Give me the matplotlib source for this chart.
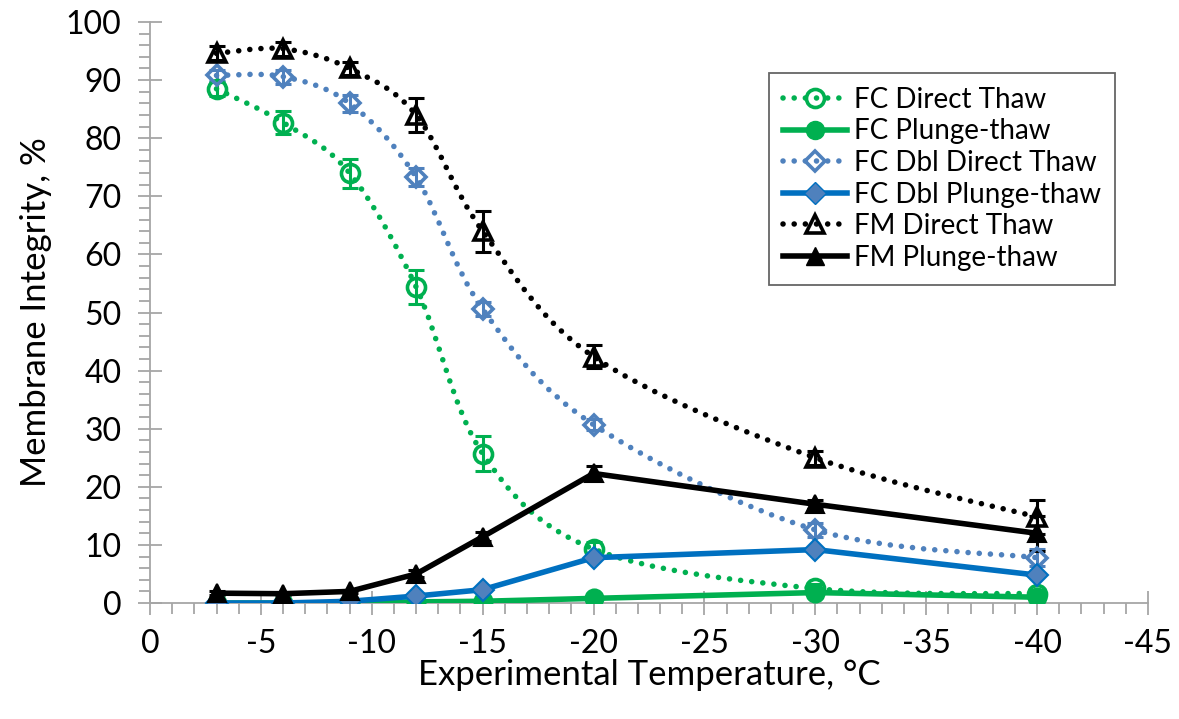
import numpy as np
import matplotlib.pyplot as plt
from matplotlib.path import Path
from matplotlib.patches import PathPatch
from matplotlib.lines import Line2D
from matplotlib.ticker import MultipleLocator

plt.rcParams['font.family'] = ['Lato', 'DejaVu Sans']
plt.rcParams['axes.unicode_minus'] = False

# Data
temps = [-3, -6, -9, -12, -15, -20, -30, -40]

fc_direct = [88.5, 82.7, 74.0, 54.4, 25.7, 9.3, 2.5, 1.6]
fc_direct_err = [1.2, 2.0, 2.5, 3.0, 3.0, 1.2, 0.8, 0.6]

fc_plunge = [0.0, 0.0, 0.0, 0.2, 0.3, 0.8, 1.8, 1.0]

dbl_direct = [90.8, 90.6, 86.0, 73.3, 50.6, 30.7, 12.6, 7.8]
dbl_direct_err = [1.0, 1.2, 1.5, 1.5, 1.2, 1.0, 1.2, 1.5]

dbl_plunge = [0.0, 0.0, 0.3, 1.2, 2.3, 7.8, 9.2, 4.8]

fm_direct = [94.6, 95.4, 92.0, 84.0, 64.0, 42.4, 25.0, 14.8]
fm_direct_err = [1.2, 1.2, 1.2, 3.0, 3.5, 2.0, 1.2, 3.0]

fm_plunge = [1.7, 1.6, 2.0, 5.0, 11.4, 22.3, 17.0, 12.0]
fm_plunge_err = [0.3, 0.3, 0.3, 0.6, 0.8, 1.2, 0.8, 3.0]

green = '#00B050'
blue = '#0070C0'
lblue = '#4F81BD'
dots = (0, (0.01, 2.0))


# Excel-style smoothed line: Catmull-Rom control points as cubic Bezier
def smooth_path(xs, ys):
    p = np.column_stack([xs, ys]).astype(float)
    p_ext = np.vstack([p[0], p, p[-1]])
    verts = [p[0]]
    codes = [Path.MOVETO]
    for i in range(1, len(p_ext) - 2):
        p0, p1, p2, p3 = p_ext[i - 1], p_ext[i], p_ext[i + 1], p_ext[i + 2]
        c1 = p1 + (p2 - p0) / 6.0
        c2 = p2 - (p3 - p1) / 6.0
        verts += [c1, c2, p2]
        codes += [Path.CURVE4] * 3
    return Path(verts, codes)


fig = plt.figure(figsize=(11.79, 7.19), dpi=100)
ax = fig.add_axes([0.1272, 0.1613, 0.8465, 0.8081])

def direct_series(ys, err, color, marker, ms):
    patch = PathPatch(smooth_path(temps, ys), fill=False, edgecolor=color,
                      lw=4.0, linestyle=dots, capstyle='round', zorder=3)
    ax.add_patch(patch)
    ax.errorbar(temps, ys, yerr=err, fmt='none', ecolor=color, elinewidth=2.2,
                capsize=6, capthick=2.2, zorder=4)
    ax.plot(temps, ys, linestyle='none', marker=marker, ms=ms, mfc='none',
            mec=color, mew=2.6, zorder=5)

def plunge_series(ys, color, marker, ms, mfc, mec, err=None):
    if err is not None:
        ax.errorbar(temps, ys, yerr=err, fmt='none', ecolor=color, elinewidth=2.2,
                    capsize=6, capthick=2.2, zorder=4)
    ax.plot(temps, ys, color=color, lw=4, marker=marker, ms=ms, mfc=mfc,
            mec=mec, mew=1.5, zorder=5)

direct_series(fc_direct, fc_direct_err, green, 'o', 13)
plunge_series(fc_plunge, green, 'o', 13, green, green)
direct_series(dbl_direct, dbl_direct_err, lblue, 'D', 10)
plunge_series(dbl_plunge, blue, 'D', 11, lblue, blue)
direct_series(fm_direct, fm_direct_err, 'black', '^', 13)
plunge_series(fm_plunge, 'black', '^', 13, 'black', 'black', err=fm_plunge_err)

ax.set_xlim(0, -45)
ax.set_ylim(0, 100)
ax.xaxis.set_major_locator(MultipleLocator(5))
ax.xaxis.set_minor_locator(MultipleLocator(1))
ax.yaxis.set_major_locator(MultipleLocator(10))
ax.yaxis.set_minor_locator(MultipleLocator(2))

axis_gray = '#A6A6A6'
for s in ['top', 'right']:
    ax.spines[s].set_visible(False)
for s in ['left', 'bottom']:
    ax.spines[s].set_color(axis_gray)
    ax.spines[s].set_linewidth(1.3)
ax.tick_params(which='major', direction='inout', length=17, width=1.3,
               color=axis_gray, labelsize=23)
ax.tick_params(which='minor', direction='out', length=8, width=1.3,
               color=axis_gray)
ax.tick_params(axis='y', which='major', pad=12)
ax.tick_params(axis='x', which='major', pad=10)

ax.set_xlabel('Experimental Temperature, °C', fontsize=25, labelpad=0)
ax.set_ylabel('Membrane Integrity, %', fontsize=25, labelpad=10)
ax.patch.set_alpha(0)

handles = [
    Line2D([], [], color=green, lw=4.0, linestyle=dots, dash_capstyle='round',
           marker='o', ms=13, mfc='none', mec=green, mew=2.6),
    Line2D([], [], color=green, lw=4, marker='o', ms=13, mfc=green, mec=green),
    Line2D([], [], color=lblue, lw=4.0, linestyle=dots, dash_capstyle='round',
           marker='D', ms=10, mfc='none', mec=lblue, mew=2.6),
    Line2D([], [], color=blue, lw=4, marker='D', ms=11, mfc=lblue, mec=blue),
    Line2D([], [], color='black', lw=4.0, linestyle=dots, dash_capstyle='round',
           marker='^', ms=13, mfc='none', mec='black', mew=2.6),
    Line2D([], [], color='black', lw=4, marker='^', ms=13, mfc='black', mec='black'),
]
labels = ['FC Direct Thaw', 'FC Plunge-thaw', 'FC Dbl Direct Thaw',
          'FC Dbl Plunge-thaw', 'FM Direct Thaw', 'FM Plunge-thaw']
leg = ax.legend(handles, labels, loc='upper left',
                bbox_to_anchor=(769 / 1179, 1 - 73 / 719),
                bbox_transform=fig.transFigure,
                fontsize=20, frameon=True, fancybox=False, edgecolor='#404040',
                handlelength=2.3, handletextpad=0.25, labelspacing=0.2,
                borderpad=0.5, borderaxespad=0)
leg.get_frame().set_linewidth(1.3)

fig.savefig('out.png', dpi=100)
